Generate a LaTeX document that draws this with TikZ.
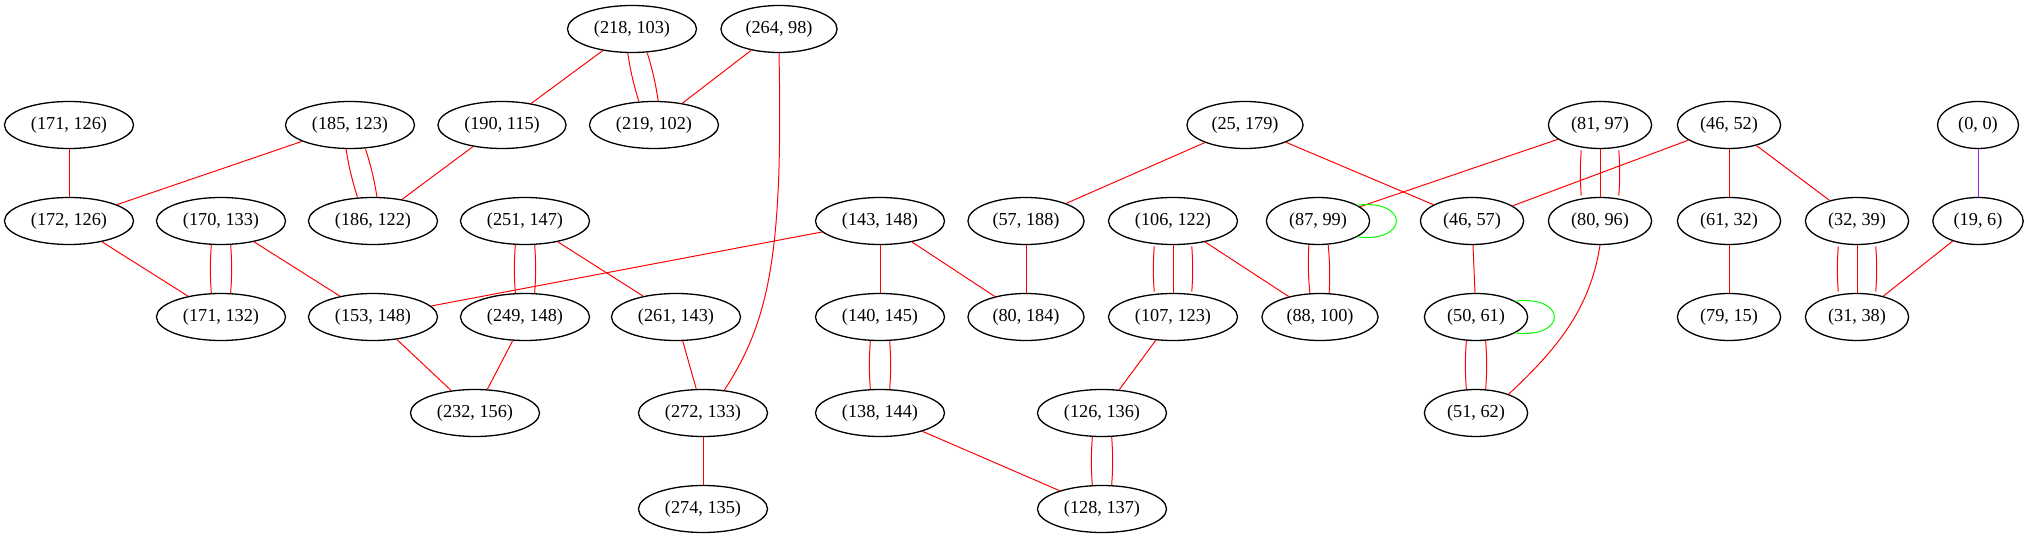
\documentclass[tikz,border=0pt]{standalone}
\usepackage{fontspec}
\setmainfont{Liberation Serif}
\usetikzlibrary{shapes.geometric}
\definecolor{gvpurple}{RGB}{160,32,240}
\tikzset{
	pairnode/.style={ellipse, draw, line width=1pt, minimum width=62pt, minimum height=36pt,
		inner xsep=5.8pt, inner ysep=2pt, font=\fontsize{14}{16}\selectfont},
	link/.style={red, line width=0.75pt},
	lane/.style={link, transform canvas={shift={(#1,0)}}},
	selfloop/.style={green, line width=0.75pt}
}

\begin{document}
\begin{tikzpicture}[x=0.766pt, y=-0.766pt]
\useasboundingbox (0,0) rectangle (2029,539);

\foreach \a/\b/\x/\y in {218/103/632/29, 264/98/779/29,
	171/126/69/125, 185/123/350/125, 190/115/502/125, 219/102/654/125, 25/179/1245/125,
	81/97/1600/125, 46/52/1729/125, 0/0/1978/125,
	172/126/69/221, 170/133/221/221, 186/122/373/221, 251/147/525/221, 143/148/880/221,
	57/188/1026/221, 106/122/1173/221, 87/99/1318/221, 46/57/1472/221, 80/96/1600/221,
	61/32/1729/221, 32/39/1857/221, 19/6/1978/221,
	171/132/221/317, 153/148/373/317, 249/148/525/317, 261/143/676/317, 140/145/880/317,
	80/184/1026/317, 107/123/1173/317, 88/100/1320/317, 50/61/1476/317, 79/15/1729/317,
	31/38/1857/317,
	232/156/475/413, 272/133/703/413, 138/144/880/413, 126/136/1102/413, 51/62/1476/413,
	274/135/703/509, 128/137/1102/509}
	\node[pairnode] (v\a-\b) at (\x,\y) {(\a, \b)};

\foreach \p/\q in {218-103/190-115, 264-98/219-102, 171-126/172-126, 185-123/172-126,
	190-115/186-122, 172-126/171-132, 170-133/153-148, 251-147/261-143, 143-148/153-148,
	153-148/232-156, 249-148/232-156, 261-143/272-133, 272-133/274-135, 143-148/140-145,
	143-148/80-184, 138-144/128-137, 57-188/80-184, 25-179/57-188, 25-179/46-57,
	106-122/88-100, 107-123/126-136, 81-97/87-99, 46-52/46-57, 46-52/61-32, 46-52/32-39,
	46-57/50-61, 61-32/79-15, 19-6/31-38}
	\draw[link] (v\p) -- (v\q);

% parallel edges
\foreach \p/\q in {218-103/219-102, 185-123/186-122, 170-133/171-132, 251-147/249-148,
	140-145/138-144, 126-136/128-137, 87-99/88-100, 50-61/51-62} {
	\draw[lane=-8, bend right=4] (v\p) to (v\q);
	\draw[lane=8, bend left=4] (v\p) to (v\q);
}
\foreach \p/\q in {106-122/107-123, 81-97/80-96, 32-39/31-38} {
	\draw[lane=-17, bend right=4, shorten <=1pt, shorten >=1pt] (v\p) to (v\q);
	\draw[link] (v\p) -- (v\q);
	\draw[lane=17, bend left=4, shorten <=1pt, shorten >=1pt] (v\p) to (v\q);
}

\draw[link] (v264-98.south) .. controls +(4,197) and +(46,-70) .. (v272-133.47);
\draw[link] (v80-96.south) .. controls +(-10,65) and +(47,-44) .. (v51-62.30);
\draw[link, gvpurple] (v0-0) -- (v19-6);

\foreach \n in {87-99, 50-61}
	\draw[selfloop] (v\n.22) .. controls +(52,-6) and +(52,6) .. (v\n.-22);
\end{tikzpicture}
\end{document}
